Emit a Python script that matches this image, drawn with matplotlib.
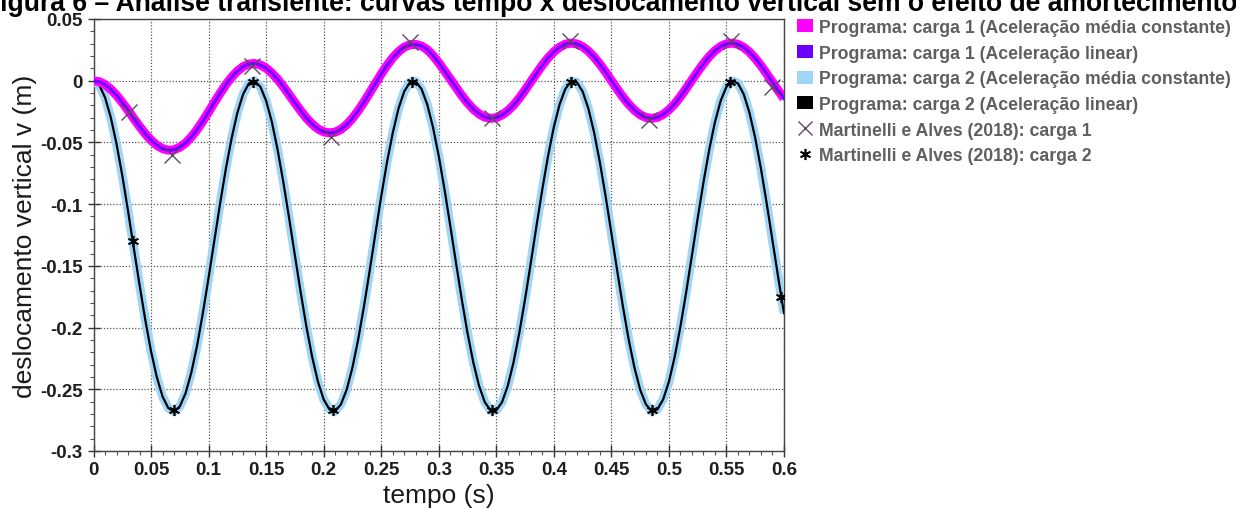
import numpy as np
import matplotlib
matplotlib.use("Agg")
import matplotlib.pyplot as plt
from matplotlib.patches import Patch
from matplotlib.lines import Line2D

plt.rcParams['font.family'] = ['Liberation Sans', 'DejaVu Sans']

# time grid (s)
tempo = np.round(np.arange(0, 0.6001, 0.005), 3)

# Programa: carga 1
carga1_mc = [0.0, -0.0008, -0.0031, -0.0069, -0.0118, -0.0176, -0.0239, -0.0306, -0.0370, -0.0430,
             -0.0482, -0.0523, -0.0550, -0.0563, -0.0559, -0.0539, -0.0505, -0.0456, -0.0396, -0.0327,
             -0.0253, -0.0176, -0.0102, -0.0032, 0.0028, 0.0078, 0.0114, 0.0135, 0.0140, 0.0128,
             0.0102, 0.0062, 0.0011, -0.0048, -0.0113, -0.0179, -0.0243, -0.0302, -0.0351, -0.0390,
             -0.0414, -0.0423, -0.0417, -0.0394, -0.0356, -0.0305, -0.0243, -0.0173, -0.0098, -0.0021,
             0.0054, 0.0124, 0.0186, 0.0235, 0.0272, 0.0292, 0.0294, 0.0281, 0.0252, 0.0204,
             0.0145, 0.0080, 0.0014, -0.0054, -0.0120, -0.0179, -0.0230, -0.0269, -0.0295, -0.0305,
             -0.0299, -0.0278, -0.0244, -0.0198, -0.0141, -0.0076, -0.0008, 0.0060, 0.0126, 0.0185,
             0.0234, 0.0272, 0.0296, 0.0305, 0.0298, 0.0276, 0.0240, 0.0192, 0.0134, 0.0070,
             0.0001, -0.0067, -0.0132, -0.0190, -0.0238, -0.0276, -0.0298, -0.0305, -0.0297, -0.0273,
             -0.0236, -0.0188, -0.0129, -0.0063, 0.0006, 0.0074, 0.0138, 0.0196, 0.0243, 0.0278,
             0.0299, 0.0305, 0.0295, 0.0270, 0.0232, 0.0181, 0.0122, 0.0056, -0.0012, -0.0080,
             -0.0144]
carga1_lin = list(carga1_mc)

# Programa: carga 2
carga2_mc = [0.0, -0.0034, -0.0135, -0.0296, -0.0511, -0.0768, -0.1054, -0.1355, -0.1654, -0.1938,
             -0.2192, -0.2401, -0.2559, -0.2652, -0.2680, -0.2639, -0.2532, -0.2365, -0.2147, -0.1884,
             -0.1596, -0.1295, -0.0996, -0.0714, -0.0467, -0.0260, -0.0109, -0.0022, -0.0001, -0.0049,
             -0.0162, -0.0335, -0.0560, -0.0824, -0.1114, -0.1415, -0.1713, -0.1992, -0.2238, -0.2438,
             -0.2582, -0.2663, -0.2677, -0.2622, -0.2503, -0.2324, -0.2096, -0.1829, -0.1538, -0.1235,
             -0.0937, -0.0662, -0.0424, -0.0226, -0.0087, -0.0012, -0.0005, -0.0067, -0.0192, -0.0377,
             -0.0610, -0.0880, -0.1174, -0.1476, -0.1771, -0.2044, -0.2282, -0.2471, -0.2604, -0.2671,
             -0.2671, -0.2604, -0.2471, -0.2281, -0.2043, -0.1770, -0.1475, -0.1172, -0.0879, -0.0609,
             -0.0376, -0.0192, -0.0066, -0.0005, -0.0012, -0.0087, -0.0225, -0.0420, -0.0661, -0.0937,
             -0.1234, -0.1536, -0.1828, -0.2095, -0.2323, -0.2503, -0.2622, -0.2677, -0.2663, -0.2582,
             -0.2438, -0.2238, -0.1992, -0.1713, -0.1415, -0.1114, -0.0824, -0.0560, -0.0335, -0.0162,
             -0.0049, -0.0001, -0.0022, -0.0109, -0.0260, -0.0464, -0.0714, -0.0996, -0.1295, -0.1596,
             -0.1884]
carga2_lin = list(carga2_mc)

# Martinelli e Alves (2018)
mart_t1 = [0.031, 0.068, 0.138, 0.206, 0.275, 0.346, 0.414, 0.483, 0.554, 0.590]
mart_v1 = [-0.025, -0.060, 0.012, -0.046, 0.031, -0.030, 0.032, -0.032, 0.032, -0.005]
mart_t2 = [0.034, 0.070, 0.139, 0.208, 0.277, 0.346, 0.415, 0.485, 0.553, 0.597]
mart_v2 = [-0.130, -0.267, -0.001, -0.267, -0.001, -0.267, -0.001, -0.267, -0.001, -0.175]

xticks = [0, 0.05, 0.1, 0.15, 0.2, 0.25, 0.3, 0.35, 0.4, 0.45, 0.5, 0.55, 0.6]
xticklabels = ['0', '0.05', '0.1', '0.15', '0.2', '0.25', '0.3', '0.35', '0.4', '0.45', '0.5', '0.55', '0.6']
yticks = [0.05, 0, -0.05, -0.1, -0.15, -0.2, -0.25, -0.3]
yticklabels = ['0.05', '0', '-0.05', '-0.1', '-0.15', '-0.2', '-0.25', '-0.3']

labels = ['Programa: carga 1 (Aceleração média constante)',
          'Programa: carga 1 (Aceleração linear)',
          'Programa: carga 2 (Aceleração média constante)',
          'Programa: carga 2 (Aceleração linear)',
          'Martinelli e Alves (2018): carga 1',
          'Martinelli e Alves (2018): carga 2']

c_mag = '#ff00ff'
c_pur = '#6a00ff'
c_lb = '#9fd6f7'
c_blk = '#000000'
c_x = '#5a4a5e'

W, H = 1236, 510
fig = plt.figure(figsize=(W / 100, H / 100), dpi=100)
ax = fig.add_axes([93.5 / W, 1 - 452 / H, (784 - 93.5) / W, (452 - 20) / H])

ax.plot(tempo, carga2_mc, color=c_lb, lw=6.5, solid_capstyle='butt', zorder=3)
ax.plot(tempo, carga2_lin, color=c_blk, lw=1.6, zorder=4)
ax.plot(tempo, carga1_mc, color=c_mag, lw=6.5, solid_capstyle='butt', zorder=5)
ax.plot(tempo, carga1_lin, color=c_pur, lw=2.2, zorder=6)
ax.plot(mart_t1, mart_v1, ls='none', marker='x', ms=11, mew=1.0, color=c_x, zorder=7)
ax.plot(mart_t2, mart_v2, ls='none', marker=(6, 2, 0), ms=8, mew=1.2, color=c_blk, zorder=7)

ax.set_xlim(0, 0.6)
ax.set_ylim(-0.3, 0.05)
ax.set_xticks(xticks)
ax.set_xticklabels(xticklabels)
ax.set_yticks(yticks)
ax.set_yticklabels(yticklabels)
ax.set_xticks(np.round(np.arange(0, 0.6001, 0.01), 2), minor=True)
ax.set_yticks(np.round(np.arange(-0.3, 0.0501, 0.01), 2), minor=True)
ax.tick_params(axis='both', which='major', direction='inout', length=8, width=1, color='#333333',
               labelsize=13.5, labelcolor='#1e1e1e')
ax.tick_params(axis='both', which='minor', direction='out', length=3, width=0.8, color='#555555')
ax.tick_params(axis='x', which='major', pad=3)
ax.tick_params(axis='y', which='major', pad=4)
for lab in ax.get_xticklabels() + ax.get_yticklabels():
    lab.set_fontweight('bold')
for s in ax.spines.values():
    s.set_color('#444444')
    s.set_linewidth(1.0)
ax.grid(True, which='major', color='#555555', ls=(0, (1, 1.5)), lw=0.9, zorder=1)
ax.set_axisbelow(True)

ax.set_xlabel('tempo (s)', fontsize=19, color='#1a1a1a', labelpad=4)
ax.set_ylabel('deslocamento vertical v (m)', fontsize=19, color='#1a1a1a', labelpad=2)

fig.text(-16.5 / W, 1 - 11 / H,
         'Figura 6 – Análise transiente: curvas tempo x deslocamento vertical sem o efeito de amortecimento',
         fontsize=19.1, fontweight='bold', ha='left', va='baseline', color='#000000')

handles = [Patch(facecolor=c_mag, edgecolor='none'),
           Patch(facecolor=c_pur, edgecolor='none'),
           Patch(facecolor=c_lb, edgecolor='none'),
           Patch(facecolor=c_blk, edgecolor='none'),
           Line2D([], [], ls='none', marker='x', ms=10, mew=1.0, color=c_x),
           Line2D([], [], ls='none', marker=(6, 2, 0), ms=8, mew=1.2, color=c_blk)]
leg = fig.legend(handles, labels, loc='upper left', bbox_to_anchor=(797 / W, 1 - 20 / H),
                 frameon=False, handlelength=0.9, handleheight=0.75, handletextpad=0.35,
                 labelspacing=0.49, borderaxespad=0, borderpad=0,
                 prop={'weight': 'bold', 'size': 12.7})
for txt in leg.get_texts():
    txt.set_color('#5f5f5f')

fig.savefig('out.png', dpi=100)
